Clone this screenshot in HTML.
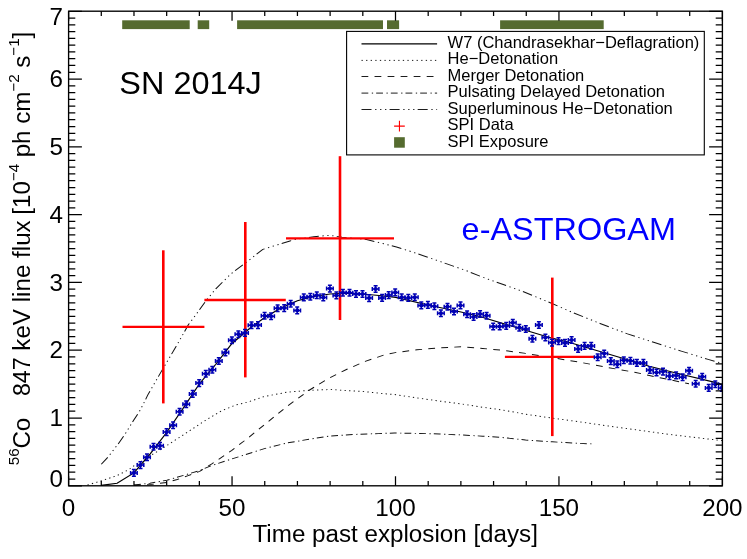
<!DOCTYPE html>
<html><head><meta charset="utf-8"><title>SN 2014J</title>
<style>html,body{margin:0;padding:0;background:#fff;}svg{display:block;}text{font-family:"Liberation Sans", sans-serif;fill:#000;}svg{will-change:transform;}</style></head><body>
<svg width="747" height="559" viewBox="0 0 747 559">
<rect x="0" y="0" width="747" height="559" fill="#fff"/>
<rect x="122.2" y="20.3" width="67.5" height="8.8" fill="#556b2f"/>
<rect x="197.7" y="20.3" width="11.5" height="8.8" fill="#556b2f"/>
<rect x="237.1" y="20.3" width="145.9" height="8.8" fill="#556b2f"/>
<rect x="387.0" y="20.3" width="12.1" height="8.8" fill="#556b2f"/>
<rect x="500.1" y="20.3" width="103.6" height="8.8" fill="#556b2f"/>
<path d="M92.09 464.3 L97.73 457.6 L107.45 443.9 L113.09 435.1 L121.64 420.0 L126.82 411.3 L131.91 400.6 L134.27 395.1 L147.64 369.6 L159.91 346.8 L171.36 324.6 L179.09 313.3 L187.64 300.2 L196.18 288.9 L209.82 273.9 L223.55 262.6 L238.91 249.4 L252.55 244.7 L263.64 241.0 L268.18 239.5 L285.27 236.7 L299.82 235.3 L310.91 237.2 L333.18 239.5 L346.82 243.2 L360.45 247.0 L373.55 251.5 L389.82 257.6 L406.91 264.1 L424.00 270.7 L441.09 278.2 L458.18 284.8 L475.27 291.4 L499.18 302.3 L521.64 313.0 L546.09 323.7 L570.45 333.9 L594.91 342.5 L619.27 351.1 L643.73 359.4 L656.36 363.4" fill="none" stroke="#111" stroke-width="0.95" stroke-dasharray="9.09 3.32 1.18 3.32 1.18 3.32 1.18 2.95" transform="scale(1.1,1)"/>
<path d="M79.55 485.0 L91.91 480.9 L106.45 475.6 L117.27 469.5 L122.09 465.5 L137.64 455.1 L149.36 447.2 L162.36 437.9 L175.36 428.6 L188.36 419.3 L201.36 410.8 L214.36 405.0 L224.82 402.2 L240.36 396.5 L260.91 392.2 L281.36 390.3 L300.18 389.5 L314.91 390.5 L332.00 391.7 L349.09 393.7 L358.55 394.5 L379.09 397.9 L399.55 401.1 L419.27 403.9 L438.91 407.3 L456.36 409.9 L477.82 414.2 L502.00 418.1 L526.09 421.7 L553.00 426.0 L580.73 430.2 L609.09 434.5 L650.00 439.8 L656.36 440.6" fill="none" stroke="#111" stroke-width="0.95" stroke-dasharray="1.18 2.99" transform="scale(1.1,1)"/>
<path d="M121.82 485.2 L136.36 484.6 L151.73 482.4 L161.09 479.5 L170.45 475.9 L181.55 471.4 L192.55 463.9 L210.45 450.6 L225.00 438.4 L240.36 424.7 L260.91 406.4 L280.73 390.5 L297.82 378.9 L314.91 369.5 L332.00 361.4 L349.09 355.0 L359.36 352.6 L379.09 349.8 L399.55 347.9 L419.27 346.8 L438.91 348.5 L456.36 350.2 L477.82 353.4 L502.00 357.7 L526.09 362.0 L553.00 367.6 L578.00 372.5 L594.91 376.6 L622.73 382.9 L626.36 383.7" fill="none" stroke="#111" stroke-width="0.95" stroke-dasharray="6.18 5.67" transform="scale(1.1,1)"/>
<path d="M121.82 485.0 L136.36 483.2 L151.73 480.2 L170.45 474.2 L181.55 470.5 L192.55 465.5 L210.45 459.0 L225.00 454.0 L240.36 448.6 L260.91 443.0 L281.36 439.2 L300.18 436.0 L320.73 434.5 L343.82 433.6 L358.55 433.0 L379.09 433.4 L399.55 434.0 L419.27 434.9 L438.91 436.2 L455.45 437.4 L477.82 440.0 L502.00 441.8 L526.09 443.3 L537.73 443.9" fill="none" stroke="#111" stroke-width="0.95" stroke-dasharray="6.18 3.18 1.18 2.79" transform="scale(1.1,1)"/>
<path d="M91.91 485.4 L106.45 483.2 L121.73 472.9 L136.55 453.8 L151.45 432.5 L166.36 408.5 L181.18 384.0 L196.00 364.5 L210.91 343.5 L225.73 329.5 L240.64 317.5 L255.45 308.0 L270.36 300.8 L285.18 296.5 L300.00 294.0 L311.82 293.3 L329.73 294.0 L344.55 295.5 L359.73 297.4 L389.09 305.0 L419.09 312.0 L437.00 316.7 L466.36 326.5 L498.82 337.2 L516.27 342.0 L545.45 351.5 L590.27 366.2 L618.18 374.0 L648.09 381.9 L656.36 384.2" fill="none" stroke="#000" stroke-width="1.15" transform="scale(1.1,1)"/>
<path d="M122.5 326.9H204.4" stroke="#ff0000" stroke-width="2.35" fill="none"/>
<path d="M163.3 250.3V403.4" stroke="#ff0000" stroke-width="2.6" fill="none"/>
<path d="M204.4 300.0H285.8" stroke="#ff0000" stroke-width="2.35" fill="none"/>
<path d="M245.3 222.0V377.4" stroke="#ff0000" stroke-width="2.6" fill="none"/>
<path d="M286.0 238.3H394.0" stroke="#ff0000" stroke-width="2.35" fill="none"/>
<path d="M340.0 156.2V320.0" stroke="#ff0000" stroke-width="2.6" fill="none"/>
<path d="M504.9 356.9H594.3" stroke="#ff0000" stroke-width="2.35" fill="none"/>
<path d="M552.3 277.6V436.1" stroke="#ff0000" stroke-width="2.6" fill="none"/>
<defs><g id="m"><circle cx="0" cy="0" r="2.1" fill="#0000b4"/><path d="M-3.3 0H3.3M0 -3.3V3.3M-3.3 -2V2M3.3 -2V2M-2 -3.3H2M-2 3.3H2" stroke="#0000b4" stroke-width="1.5" fill="none"/></g><clipPath id="cp"><rect x="68.6" y="11.2" width="654.1" height="474.6"/></clipPath></defs>
<g clip-path="url(#cp)">
<use href="#m" x="133.9" y="472.9"/>
<use href="#m" x="140.5" y="465.1"/>
<use href="#m" x="147.0" y="457.3"/>
<use href="#m" x="153.5" y="446.8"/>
<use href="#m" x="160.0" y="445.8"/>
<use href="#m" x="166.6" y="432.1"/>
<use href="#m" x="173.1" y="425.3"/>
<use href="#m" x="179.6" y="411.7"/>
<use href="#m" x="186.2" y="404.2"/>
<use href="#m" x="192.7" y="393.9"/>
<use href="#m" x="199.2" y="383.1"/>
<use href="#m" x="205.8" y="373.8"/>
<use href="#m" x="212.3" y="369.8"/>
<use href="#m" x="218.8" y="361.0"/>
<use href="#m" x="225.4" y="352.5"/>
<use href="#m" x="231.9" y="340.2"/>
<use href="#m" x="238.4" y="334.2"/>
<use href="#m" x="245.0" y="332.9"/>
<use href="#m" x="251.5" y="325.2"/>
<use href="#m" x="258.0" y="325.1"/>
<use href="#m" x="264.6" y="315.8"/>
<use href="#m" x="271.1" y="316.3"/>
<use href="#m" x="277.6" y="308.2"/>
<use href="#m" x="284.2" y="308.1"/>
<use href="#m" x="290.7" y="303.8"/>
<use href="#m" x="297.2" y="310.4"/>
<use href="#m" x="303.8" y="297.4"/>
<use href="#m" x="310.3" y="296.8"/>
<use href="#m" x="316.8" y="295.3"/>
<use href="#m" x="323.3" y="297.4"/>
<use href="#m" x="329.9" y="288.6"/>
<use href="#m" x="336.4" y="295.4"/>
<use href="#m" x="342.9" y="292.7"/>
<use href="#m" x="349.5" y="292.7"/>
<use href="#m" x="356.0" y="294.0"/>
<use href="#m" x="362.5" y="294.0"/>
<use href="#m" x="369.1" y="298.1"/>
<use href="#m" x="375.6" y="289.0"/>
<use href="#m" x="382.1" y="297.9"/>
<use href="#m" x="388.7" y="295.1"/>
<use href="#m" x="395.2" y="292.4"/>
<use href="#m" x="401.7" y="297.3"/>
<use href="#m" x="408.3" y="297.9"/>
<use href="#m" x="414.8" y="297.3"/>
<use href="#m" x="421.3" y="305.4"/>
<use href="#m" x="427.9" y="304.9"/>
<use href="#m" x="434.4" y="306.3"/>
<use href="#m" x="440.9" y="313.3"/>
<use href="#m" x="447.5" y="306.7"/>
<use href="#m" x="454.0" y="311.5"/>
<use href="#m" x="460.5" y="305.4"/>
<use href="#m" x="467.1" y="314.2"/>
<use href="#m" x="473.6" y="317.0"/>
<use href="#m" x="480.1" y="314.0"/>
<use href="#m" x="486.6" y="315.7"/>
<use href="#m" x="493.2" y="326.5"/>
<use href="#m" x="499.7" y="326.5"/>
<use href="#m" x="506.2" y="325.9"/>
<use href="#m" x="512.8" y="322.7"/>
<use href="#m" x="519.3" y="327.7"/>
<use href="#m" x="525.8" y="329.0"/>
<use href="#m" x="532.4" y="338.8"/>
<use href="#m" x="538.9" y="325.0"/>
<use href="#m" x="545.4" y="337.5"/>
<use href="#m" x="552.0" y="342.6"/>
<use href="#m" x="558.5" y="341.1"/>
<use href="#m" x="565.0" y="342.9"/>
<use href="#m" x="571.6" y="340.0"/>
<use href="#m" x="578.1" y="349.0"/>
<use href="#m" x="584.6" y="345.9"/>
<use href="#m" x="591.2" y="345.9"/>
<use href="#m" x="597.7" y="357.2"/>
<use href="#m" x="604.2" y="353.6"/>
<use href="#m" x="610.8" y="361.1"/>
<use href="#m" x="617.3" y="364.2"/>
<use href="#m" x="623.8" y="360.2"/>
<use href="#m" x="630.4" y="360.8"/>
<use href="#m" x="636.9" y="362.9"/>
<use href="#m" x="643.4" y="362.9"/>
<use href="#m" x="649.9" y="370.0"/>
<use href="#m" x="656.5" y="372.5"/>
<use href="#m" x="663.0" y="371.6"/>
<use href="#m" x="669.5" y="376.1"/>
<use href="#m" x="676.1" y="375.4"/>
<use href="#m" x="682.6" y="377.2"/>
<use href="#m" x="689.1" y="370.7"/>
<use href="#m" x="695.7" y="383.8"/>
<use href="#m" x="702.2" y="376.7"/>
<use href="#m" x="708.7" y="387.9"/>
<use href="#m" x="715.3" y="384.3"/>
<use href="#m" x="721.8" y="387.9"/>
</g>
<rect x="68.6" y="11.2" width="653.8" height="474.6" fill="none" stroke="#000" stroke-width="1.35"/>
<path d="M68.60 485.8v-9.5M68.60 11.2v9.5M101.29 485.8v-4.7M101.29 11.2v4.7M133.98 485.8v-4.7M133.98 11.2v4.7M166.67 485.8v-4.7M166.67 11.2v4.7M199.36 485.8v-4.7M199.36 11.2v4.7M232.05 485.8v-9.5M232.05 11.2v9.5M264.74 485.8v-4.7M264.74 11.2v4.7M297.43 485.8v-4.7M297.43 11.2v4.7M330.12 485.8v-4.7M330.12 11.2v4.7M362.81 485.8v-4.7M362.81 11.2v4.7M395.50 485.8v-9.5M395.50 11.2v9.5M428.19 485.8v-4.7M428.19 11.2v4.7M460.88 485.8v-4.7M460.88 11.2v4.7M493.57 485.8v-4.7M493.57 11.2v4.7M526.26 485.8v-4.7M526.26 11.2v4.7M558.95 485.8v-9.5M558.95 11.2v9.5M591.64 485.8v-4.7M591.64 11.2v4.7M624.33 485.8v-4.7M624.33 11.2v4.7M657.02 485.8v-4.7M657.02 11.2v4.7M689.71 485.8v-4.7M689.71 11.2v4.7M722.40 485.8v-9.5M722.40 11.2v9.5M68.6 485.80h13.3M722.4 485.80h-13.3M68.6 479.02h6.7M722.4 479.02h-6.7M68.6 472.24h6.7M722.4 472.24h-6.7M68.6 465.46h6.7M722.4 465.46h-6.7M68.6 458.68h6.7M722.4 458.68h-6.7M68.6 451.90h6.7M722.4 451.90h-6.7M68.6 445.12h6.7M722.4 445.12h-6.7M68.6 438.35h6.7M722.4 438.35h-6.7M68.6 431.57h6.7M722.4 431.57h-6.7M68.6 424.79h6.7M722.4 424.79h-6.7M68.6 418.01h13.3M722.4 418.01h-13.3M68.6 411.23h6.7M722.4 411.23h-6.7M68.6 404.45h6.7M722.4 404.45h-6.7M68.6 397.67h6.7M722.4 397.67h-6.7M68.6 390.89h6.7M722.4 390.89h-6.7M68.6 384.11h6.7M722.4 384.11h-6.7M68.6 377.33h6.7M722.4 377.33h-6.7M68.6 370.55h6.7M722.4 370.55h-6.7M68.6 363.77h6.7M722.4 363.77h-6.7M68.6 356.99h6.7M722.4 356.99h-6.7M68.6 350.21h13.3M722.4 350.21h-13.3M68.6 343.44h6.7M722.4 343.44h-6.7M68.6 336.66h6.7M722.4 336.66h-6.7M68.6 329.88h6.7M722.4 329.88h-6.7M68.6 323.10h6.7M722.4 323.10h-6.7M68.6 316.32h6.7M722.4 316.32h-6.7M68.6 309.54h6.7M722.4 309.54h-6.7M68.6 302.76h6.7M722.4 302.76h-6.7M68.6 295.98h6.7M722.4 295.98h-6.7M68.6 289.20h6.7M722.4 289.20h-6.7M68.6 282.42h13.3M722.4 282.42h-13.3M68.6 275.64h6.7M722.4 275.64h-6.7M68.6 268.86h6.7M722.4 268.86h-6.7M68.6 262.08h6.7M722.4 262.08h-6.7M68.6 255.30h6.7M722.4 255.30h-6.7M68.6 248.53h6.7M722.4 248.53h-6.7M68.6 241.75h6.7M722.4 241.75h-6.7M68.6 234.97h6.7M722.4 234.97h-6.7M68.6 228.19h6.7M722.4 228.19h-6.7M68.6 221.41h6.7M722.4 221.41h-6.7M68.6 214.63h13.3M722.4 214.63h-13.3M68.6 207.85h6.7M722.4 207.85h-6.7M68.6 201.07h6.7M722.4 201.07h-6.7M68.6 194.29h6.7M722.4 194.29h-6.7M68.6 187.51h6.7M722.4 187.51h-6.7M68.6 180.73h6.7M722.4 180.73h-6.7M68.6 173.95h6.7M722.4 173.95h-6.7M68.6 167.17h6.7M722.4 167.17h-6.7M68.6 160.39h6.7M722.4 160.39h-6.7M68.6 153.61h6.7M722.4 153.61h-6.7M68.6 146.84h13.3M722.4 146.84h-13.3M68.6 140.06h6.7M722.4 140.06h-6.7M68.6 133.28h6.7M722.4 133.28h-6.7M68.6 126.50h6.7M722.4 126.50h-6.7M68.6 119.72h6.7M722.4 119.72h-6.7M68.6 112.94h6.7M722.4 112.94h-6.7M68.6 106.16h6.7M722.4 106.16h-6.7M68.6 99.38h6.7M722.4 99.38h-6.7M68.6 92.60h6.7M722.4 92.60h-6.7M68.6 85.82h6.7M722.4 85.82h-6.7M68.6 79.04h13.3M722.4 79.04h-13.3M68.6 72.26h6.7M722.4 72.26h-6.7M68.6 65.48h6.7M722.4 65.48h-6.7M68.6 58.71h6.7M722.4 58.71h-6.7M68.6 51.93h6.7M722.4 51.93h-6.7M68.6 45.15h6.7M722.4 45.15h-6.7M68.6 38.37h6.7M722.4 38.37h-6.7M68.6 31.59h6.7M722.4 31.59h-6.7M68.6 24.81h6.7M722.4 24.81h-6.7M68.6 18.03h6.7M722.4 18.03h-6.7M68.6 11.25h13.3M722.4 11.25h-13.3" stroke="#000" stroke-width="1.25" fill="none"/>
<text transform="translate(68.6,516.0) scale(1.052,1)" font-size="23.0" text-anchor="middle">0</text>
<text transform="translate(232.0,516.0) scale(1.052,1)" font-size="23.0" text-anchor="middle">50</text>
<text transform="translate(395.5,516.0) scale(1.052,1)" font-size="23.0" text-anchor="middle">100</text>
<text transform="translate(558.9,516.0) scale(1.052,1)" font-size="23.0" text-anchor="middle">150</text>
<text transform="translate(722.4,516.0) scale(1.052,1)" font-size="23.0" text-anchor="middle">200</text>
<text transform="translate(63.0,487.4) scale(1.052,1)" font-size="23.0" text-anchor="end">0</text>
<text transform="translate(63.0,426.2) scale(1.052,1)" font-size="23.0" text-anchor="end">1</text>
<text transform="translate(63.0,358.4) scale(1.052,1)" font-size="23.0" text-anchor="end">2</text>
<text transform="translate(63.0,290.6) scale(1.052,1)" font-size="23.0" text-anchor="end">3</text>
<text transform="translate(63.0,222.8) scale(1.052,1)" font-size="23.0" text-anchor="end">4</text>
<text transform="translate(63.0,155.0) scale(1.052,1)" font-size="23.0" text-anchor="end">5</text>
<text transform="translate(63.0,87.2) scale(1.052,1)" font-size="23.0" text-anchor="end">6</text>
<text transform="translate(63.0,24.9) scale(1.052,1)" font-size="23.0" text-anchor="end">7</text>
<text transform="translate(395.2,542.3) scale(1.052,1)" font-size="23.0" text-anchor="middle">Time past explosion [days]</text>
<text transform="translate(30.2,465.2) rotate(-90)" font-size="24.2" xml:space="preserve"><tspan font-size="15.2" dy="-10.9">56</tspan><tspan dy="10.9" dx="-0.3">Co   </tspan><tspan font-size="23.2" dx="1.4">847</tspan><tspan> keV line flux</tspan><tspan dx="-1.2"> [10</tspan><tspan font-size="15.2" dy="-10.9">−4</tspan><tspan dy="10.9" dx="-0.3"> ph cm</tspan><tspan font-size="15.2" dy="-10.9">−2</tspan><tspan dy="10.9" dx="-0.3"> s</tspan><tspan font-size="15.2" dy="-10.9">−1</tspan><tspan dy="10.9" dx="-0.3">]</tspan></text>
<text transform="translate(119.3,93.6) scale(1.04,1)" font-size="31.2">SN 2014J</text>
<text transform="translate(461.6,240.2) scale(1.02,1)" font-size="31.8" style="fill:#0000ff">e-ASTROGAM</text>
<rect x="346.6" y="31.4" width="357.7" height="123.5" fill="#fff" stroke="#000" stroke-width="1.1"/>
<path d="M361.5 43.8H437.1" stroke="#000" stroke-width="1.25" fill="none"/>
<path d="M361.5 60.4H437.1" stroke="#111" stroke-width="0.95" fill="none" stroke-dasharray="1.3 3.29"/>
<path d="M361.5 76.5H437.1" stroke="#111" stroke-width="0.95" fill="none" stroke-dasharray="6.8 6.24"/>
<path d="M361.5 93.1H437.1" stroke="#111" stroke-width="0.95" fill="none" stroke-dasharray="6.8 3.5 1.3 3.07"/>
<path d="M361.5 109.5H437.1" stroke="#111" stroke-width="0.95" fill="none" stroke-dasharray="10 3.65 1.3 3.65 1.3 3.65 1.3 3.25"/>
<path d="M394.1 126.1H404.8M399.45 120.8V131.5" stroke="#ff0000" stroke-width="1.1" fill="none"/>
<rect x="394.1" y="137.2" width="10.7" height="10.5" fill="#556b2f"/>
<text x="447.6" y="47.9" font-size="16.5">W7 (Chandrasekhar−Deflagration)</text>
<text x="447.6" y="64.2" font-size="16.5">He−Detonation</text>
<text x="447.6" y="80.8" font-size="16.5">Merger Detonation</text>
<text x="447.6" y="97.4" font-size="16.5">Pulsating Delayed Detonation</text>
<text x="447.6" y="113.8" font-size="16.5">Superluminous He−Detonation</text>
<text x="447.6" y="130.3" font-size="16.5">SPI Data</text>
<text x="447.6" y="146.9" font-size="16.5">SPI Exposure</text>
</svg></body></html>
